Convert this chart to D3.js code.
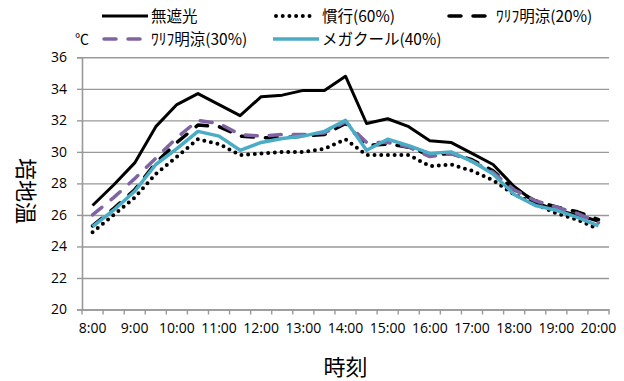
<!DOCTYPE html>
<html><head><meta charset="utf-8">
<script src="https://cdn.jsdelivr.net/npm/d3@7"></script>
<style>body{margin:0;background:#fff} svg{display:block}</style>
</head><body><svg id="c" width="624" height="381"></svg>
<script>
// ---- data ----
const categories = ["8:00","8:30","9:00","9:30","10:00","10:30","11:00","11:30","12:00","12:30","13:00","13:30","14:00","14:30","15:00","15:30","16:00","16:30","17:00","17:30","18:00","18:30","19:00","19:30","20:00"];
const tickLabels = ["8:00","9:00","10:00","11:00","12:00","13:00","14:00","15:00","16:00","17:00","18:00","19:00","20:00"];
const yTicks = [20,22,24,26,28,30,32,34,36];
const seriesNames = ["無遮光","慣行(60%)","ﾜﾘﾌ明涼(20%)","ﾜﾘﾌ明涼(30%)","メガクール(40%)"];
const mushakou = [26.6,27.9,29.3,31.6,33.0,33.7,33.0,32.3,33.5,33.6,33.9,33.9,34.8,31.8,32.1,31.6,30.7,30.6,29.9,29.2,27.8,26.8,26.3,26.0,25.6];
const kankou60 = [24.9,26.0,27.1,28.6,29.7,30.8,30.5,29.8,29.9,30.0,30.0,30.2,30.8,29.8,29.8,29.8,29.1,29.2,28.8,28.2,27.3,26.7,26.1,25.7,25.1];
const warifu20 = [25.3,26.4,27.6,29.3,30.6,31.7,31.6,31.0,30.9,30.9,31.0,31.1,31.8,30.4,30.5,30.3,29.8,29.9,29.5,28.8,27.6,26.9,26.5,26.2,25.7];
const warifu30 = [26.0,27.1,28.3,29.6,30.9,32.0,31.8,31.1,31.0,31.1,31.1,31.2,31.9,30.6,30.6,30.3,29.7,29.9,29.4,28.7,27.6,26.9,26.5,26.1,25.5];
const megacool40 = [25.25,26.3,27.5,29.2,30.2,31.3,31.0,30.1,30.6,30.85,31.0,31.3,32.0,30.1,30.8,30.4,29.9,30.0,29.4,28.6,27.3,26.6,26.3,25.85,25.3];
const xTitle = "時刻";
const yTitle = "培地温";
const unitLabel = "℃";

// ---- styles ----
const styles = [
  {color:"#000000", width:3,   dash:null,     cap:"butt"},
  {color:"#000000", width:4,   dash:"0 6.7",  cap:"round"},
  {color:"#000000", width:3.5, dash:"12 12",  cap:"round"},
  {color:"#8064A2", width:3.5, dash:"12 12",  cap:"round"},
  {color:"#4BACC6", width:3.5, dash:null,     cap:"butt"}
];
const seriesData = [mushakou, kankou60, warifu20, warifu30, megacool40];

const svg = d3.select("#c");
const pLeft = 82, pRight = 609, pTop = 57.3, pBottom = 309.5;
const x = d3.scaleBand().domain(categories).range([pLeft, pRight]).padding(0);
const y = d3.scaleLinear().domain([20, 36]).range([pBottom, pTop]);
const cx = c => x(c) + x.bandwidth() / 2;
const gridColor = "#999999";
const numFont = "'Open Sans', 'Liberation Sans', sans-serif";
const jpFont = "'Noto Sans CJK JP', 'Noto Sans', sans-serif";

// gridlines
svg.append("g").attr("transform", `translate(${pLeft},0)`)
  .call(d3.axisLeft(y).tickValues(yTicks).tickSize(-(pRight - pLeft)).tickFormat(""))
  .call(g => g.select(".domain").remove())
  .call(g => g.selectAll("line").attr("stroke", gridColor).attr("stroke-width", 1.4));

// y axis
const yAx = svg.append("g").attr("transform", `translate(${pLeft},0)`)
  .call(d3.axisLeft(y).tickValues(yTicks).tickSize(5).tickPadding(10).tickFormat(d3.format("d")));
yAx.select(".domain").attr("stroke", gridColor).attr("stroke-width", 1.6);
yAx.selectAll("line").attr("stroke", gridColor).attr("stroke-width", 1.4);
yAx.selectAll("text").attr("font-family", numFont).attr("font-size", 14).attr("fill", "#000");

// x axis line
const xAx = svg.append("g").attr("transform", `translate(0,${pBottom})`)
  .call(d3.axisBottom(x).tickSize(0).tickPadding(14)
    .tickFormat(c => tickLabels.includes(c) ? c : ""));
xAx.select(".domain").attr("stroke", gridColor).attr("stroke-width", 1.6);
xAx.selectAll("text").attr("font-family", numFont).attr("font-size", 14).attr("fill", "#000");
// boundary ticks
const bounds = categories.map(c => x(c)).concat([x(categories[categories.length-1]) + x.bandwidth()]);
xAx.selectAll("line.bt").data(bounds).join("line").attr("class", "bt")
  .attr("x1", d => d).attr("x2", d => d).attr("y1", 0).attr("y2", 5)
  .attr("stroke", gridColor).attr("stroke-width", 1.4);

// lines
const line = d3.line().x((d, i) => cx(categories[i])).y(d => y(d));
seriesData.forEach((s, k) => {
  const st = styles[k];
  svg.append("path").datum(s).attr("d", line)
    .attr("fill", "none").attr("stroke", st.color).attr("stroke-width", st.width)
    .attr("stroke-linejoin", "round").attr("stroke-linecap", st.cap)
    .attr("stroke-dasharray", st.dash);
});

// legend
const legendPos = [[102,16],[273,16],[447,16],[102,39],[273,39]];
seriesNames.forEach((n, k) => {
  const st = styles[k];
  const [lx, ly] = legendPos[k];
  const symLen = (k === 2 || k === 3) ? 40 : (k === 1 ? 36 : 46);
  const off = k === 1 ? 3 : 0;
  svg.append("line").attr("x1", lx + off + (st.cap === "round" && k !== 1 ? 2 : 0)).attr("x2", lx + off + symLen)
    .attr("y1", ly).attr("y2", ly)
    .attr("stroke", st.color).attr("stroke-width", st.width)
    .attr("stroke-linecap", st.cap).attr("stroke-dasharray", st.dash);
  svg.append("text").attr("x", lx + 49).attr("y", ly).attr("dy", "0.36em")
    .attr("font-family", jpFont).attr("font-size", 15.5).attr("fill", "#000").text(n);
});
svg.append("text").attr("x", 75).attr("y", 39).attr("dy", "0.36em")
  .attr("font-family", jpFont).attr("font-size", 14).attr("fill", "#000").text(unitLabel);

// titles
svg.append("text").attr("x", (pLeft + pRight) / 2).attr("y", 367).attr("dy", "0.36em")
  .attr("text-anchor", "middle").attr("font-family", jpFont).attr("font-size", 22).attr("fill", "#000").text(xTitle);
svg.append("text").attr("transform", "translate(26,191) rotate(90)")
  .attr("text-anchor", "middle").attr("dy", "0.36em")
  .attr("font-family", jpFont).attr("font-size", 22).attr("fill", "#000").text(yTitle);
</script>
</body></html>
